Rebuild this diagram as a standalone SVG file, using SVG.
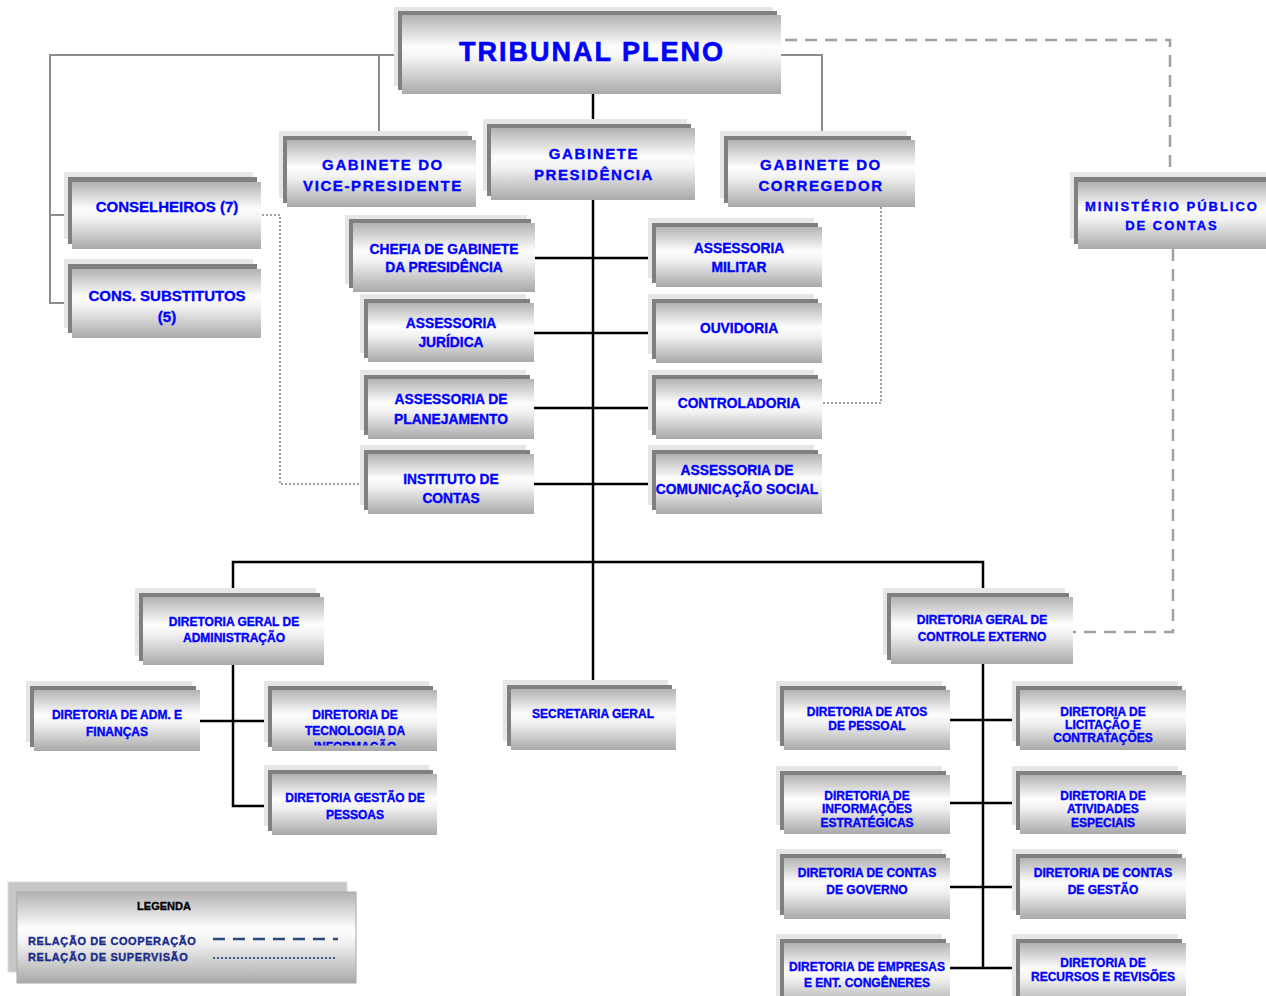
<svg xmlns="http://www.w3.org/2000/svg" width="1266" height="996" viewBox="0 0 1266 996">
<defs>
<linearGradient id="g" x1="0" y1="0" x2="0" y2="1">
<stop offset="0" stop-color="#b2b2b2"/>
<stop offset="0.4" stop-color="#fdfdfd"/>
<stop offset="0.55" stop-color="#f2f2f2"/>
<stop offset="1" stop-color="#a9a9a9"/>
</linearGradient>
<clipPath id="clipTI"><rect x="272" y="690" width="165" height="55.5"/></clipPath>
</defs>
<style>
.bk{fill:#e6e6e6}
.sh{fill:#808080}
.bx{fill:url(#g)}
text{font-family:"Liberation Sans",Arial,sans-serif;font-weight:bold;fill:#0000ff;stroke:#0000ff;stroke-width:0.35;text-anchor:middle}
.t1{font-size:27px;letter-spacing:2px;stroke-width:0.6}
.gb{font-size:15px;letter-spacing:1.6px}
.mp{font-size:13px;letter-spacing:2px}
.cs{font-size:15px}
.md{font-size:13.8px}
.sm{font-size:12px}
.c{stroke:#000;stroke-width:2.5;fill:none}
.gr{stroke:#8c8c8c;stroke-width:2;fill:none}
.dash{stroke:#a0a0a0;stroke-width:2.5;fill:none;stroke-dasharray:12 8}
.dot{stroke:#a0a0a0;stroke-width:2;fill:none;stroke-dasharray:2 2}
.lg{font-size:11px;fill:#1a2b8c;stroke:#1a2b8c;text-anchor:start;letter-spacing:0.6px}
</style>
<rect width="1266" height="996" fill="#ffffff"/>
<g id="connectors">
<path class="gr" d="M395 55 H50 V303 H68 M50 215 H68 M379 55 V133"/>
<path class="gr" d="M781 55 H822 V135"/>
<path class="dash" d="M785 40 H1170 V172"/>
<path class="dash" d="M1173 249 V632 H1073"/>
<path class="dot" d="M262 215 H280 V484 H362"/>
<path class="dot" d="M881 207 V403 H823"/>
<path class="c" d="M593 94 V684"/>
<path class="c" d="M535 258 H652 M534 333 H652 M534 408 H652 M534 484 H652"/>
<path class="c" d="M233 593 V562 H983 V593"/>
<path class="c" d="M233 665 V806 H272 M200 721 H272"/>
<path class="c" d="M983 664 V968 M950 720 H1020 M950 803 H1020 M950 887 H1020 M947 968 H1020"/>
</g>
<g id="tribunal-pleno">
<rect class="bk" x="394" y="7" width="379" height="79"/>
<rect class="sh" x="398" y="11" width="379" height="79"/>
<rect class="bx" x="402" y="15" width="379" height="79"/>
<text class="t1" x="592" y="61">TRIBUNAL PLENO</text>
</g>
<g id="gabinete-vice">
<rect class="bk" x="279" y="131" width="189" height="67"/>
<rect class="sh" x="283" y="136" width="189" height="67"/>
<rect class="bx" x="287" y="140" width="189" height="67"/>
<text class="gb" x="383" y="170">GABINETE DO</text>
<text class="gb" x="383" y="191">VICE-PRESIDENTE</text>
</g>
<g id="gabinete-presidencia">
<rect class="bk" x="483" y="119" width="204" height="72"/>
<rect class="sh" x="487" y="124" width="204" height="72"/>
<rect class="bx" x="491" y="128" width="204" height="72"/>
<text class="gb" x="594" y="159">GABINETE</text>
<text class="gb" x="594" y="180">PRESIDÊNCIA</text>
</g>
<g id="gabinete-corregedor">
<rect class="bk" x="720" y="131" width="187" height="67"/>
<rect class="sh" x="724" y="136" width="187" height="67"/>
<rect class="bx" x="728" y="140" width="187" height="67"/>
<text class="gb" x="821" y="170">GABINETE DO</text>
<text class="gb" x="821" y="191">CORREGEDOR</text>
</g>
<g id="ministerio-publico">
<rect class="bk" x="1070" y="172" width="196" height="67"/>
<rect class="sh" x="1074" y="177" width="196" height="67"/>
<rect class="bx" x="1078" y="182" width="196" height="67"/>
<text class="mp" x="1172" y="211">MINISTÉRIO PÚBLICO</text>
<text class="mp" x="1172" y="230">DE CONTAS</text>
</g>
<g id="conselheiros">
<rect class="bk" x="64" y="172" width="189" height="67"/>
<rect class="sh" x="68" y="177" width="189" height="67"/>
<rect class="bx" x="72" y="182" width="189" height="67"/>
<text class="cs" x="167" y="212">CONSELHEIROS (7)</text>
</g>
<g id="cons-substitutos">
<rect class="bk" x="64" y="259" width="189" height="69"/>
<rect class="sh" x="68" y="264" width="189" height="69"/>
<rect class="bx" x="72" y="269" width="189" height="69"/>
<text class="cs" x="167" y="301">CONS. SUBSTITUTOS</text>
<text class="cs" x="167" y="322">(5)</text>
</g>
<g id="chefia-gabinete">
<rect class="bk" x="345" y="215" width="182" height="69"/>
<rect class="sh" x="349" y="219" width="182" height="69"/>
<rect class="bx" x="353" y="223" width="182" height="69"/>
<text class="md" x="444" y="254">CHEFIA DE GABINETE</text>
<text class="md" x="444" y="272">DA PRESIDÊNCIA</text>
</g>
<g id="assessoria-juridica">
<rect class="bk" x="360" y="294" width="166" height="59"/>
<rect class="sh" x="364" y="299" width="166" height="59"/>
<rect class="bx" x="368" y="303" width="166" height="59"/>
<text class="md" x="451" y="328">ASSESSORIA</text>
<text class="md" x="451" y="347">JURÍDICA</text>
</g>
<g id="assessoria-planejamento">
<rect class="bk" x="360" y="370" width="166" height="60"/>
<rect class="sh" x="364" y="375" width="166" height="60"/>
<rect class="bx" x="368" y="379" width="166" height="60"/>
<text class="md" x="451" y="404">ASSESSORIA DE</text>
<text class="md" x="451" y="424">PLANEJAMENTO</text>
</g>
<g id="instituto-contas">
<rect class="bk" x="360" y="445" width="166" height="60"/>
<rect class="sh" x="364" y="450" width="166" height="60"/>
<rect class="bx" x="368" y="454" width="166" height="60"/>
<text class="md" x="451" y="484">INSTITUTO DE</text>
<text class="md" x="451" y="503">CONTAS</text>
</g>
<g id="assessoria-militar">
<rect class="bk" x="648" y="218" width="166" height="60"/>
<rect class="sh" x="652" y="223" width="166" height="60"/>
<rect class="bx" x="656" y="227" width="166" height="60"/>
<text class="md" x="739" y="253">ASSESSORIA</text>
<text class="md" x="739" y="272">MILITAR</text>
</g>
<g id="ouvidoria">
<rect class="bk" x="648" y="294" width="166" height="60"/>
<rect class="sh" x="652" y="299" width="166" height="60"/>
<rect class="bx" x="656" y="303" width="166" height="60"/>
<text class="md" x="739" y="333">OUVIDORIA</text>
</g>
<g id="controladoria">
<rect class="bk" x="648" y="370" width="166" height="60"/>
<rect class="sh" x="652" y="375" width="166" height="60"/>
<rect class="bx" x="656" y="379" width="166" height="60"/>
<text class="md" x="739" y="408">CONTROLADORIA</text>
</g>
<g id="assessoria-comunicacao">
<rect class="bk" x="648" y="445" width="166" height="60"/>
<rect class="sh" x="652" y="450" width="166" height="60"/>
<rect class="bx" x="656" y="454" width="166" height="60"/>
<text class="md" x="737" y="475">ASSESSORIA DE</text>
<text class="md" x="737" y="494">COMUNICAÇÃO SOCIAL</text>
</g>
<g id="dg-administracao">
<rect class="bk" x="135" y="588" width="181" height="68"/>
<rect class="sh" x="139" y="593" width="181" height="68"/>
<rect class="bx" x="143" y="597" width="181" height="68"/>
<text class="sm" x="234" y="626">DIRETORIA GERAL DE</text>
<text class="sm" x="234" y="642">ADMINISTRAÇÃO</text>
</g>
<g id="dir-adm-financas">
<rect class="bk" x="26" y="681" width="166" height="61"/>
<rect class="sh" x="30" y="686" width="166" height="61"/>
<rect class="bx" x="34" y="690" width="166" height="61"/>
<text class="sm" x="117" y="719">DIRETORIA DE ADM. E</text>
<text class="sm" x="117" y="736">FINANÇAS</text>
</g>
<g id="dir-tecnologia">
<rect class="bk" x="264" y="681" width="165" height="61"/>
<rect class="sh" x="268" y="686" width="165" height="61"/>
<rect class="bx" x="272" y="690" width="165" height="61"/>
<g clip-path="url(#clipTI)">
<text class="sm" x="355" y="719">DIRETORIA DE</text>
<text class="sm" x="355" y="735">TECNOLOGIA DA</text>
<text class="sm" x="355" y="751">INFORMAÇÃO</text>
</g>
</g>
<g id="dir-gestao-pessoas">
<rect class="bk" x="264" y="765" width="165" height="61"/>
<rect class="sh" x="268" y="770" width="165" height="61"/>
<rect class="bx" x="272" y="774" width="165" height="61"/>
<text class="sm" x="355" y="802">DIRETORIA GESTÃO DE</text>
<text class="sm" x="355" y="819">PESSOAS</text>
</g>
<g id="secretaria-geral">
<rect class="bk" x="503" y="680" width="165" height="61"/>
<rect class="sh" x="507" y="685" width="165" height="61"/>
<rect class="bx" x="511" y="689" width="165" height="61"/>
<text class="sm" x="593" y="718">SECRETARIA GERAL</text>
</g>
<g id="dg-controle-externo">
<rect class="bk" x="883" y="588" width="182" height="67"/>
<rect class="sh" x="887" y="593" width="182" height="67"/>
<rect class="bx" x="891" y="597" width="182" height="67"/>
<text class="sm" x="982" y="624">DIRETORIA GERAL DE</text>
<text class="sm" x="982" y="641">CONTROLE EXTERNO</text>
</g>
<g id="dir-atos-pessoal">
<rect class="bk" x="776" y="681" width="166" height="60"/>
<rect class="sh" x="780" y="686" width="166" height="60"/>
<rect class="bx" x="784" y="690" width="166" height="60"/>
<text class="sm" x="867" y="716">DIRETORIA DE ATOS</text>
<text class="sm" x="867" y="730">DE PESSOAL</text>
</g>
<g id="dir-licitacao">
<rect class="bk" x="1012" y="681" width="166" height="60"/>
<rect class="sh" x="1016" y="686" width="166" height="60"/>
<rect class="bx" x="1020" y="690" width="166" height="60"/>
<text class="sm" x="1103" y="716">DIRETORIA DE</text>
<text class="sm" x="1103" y="729">LICITAÇÃO E</text>
<text class="sm" x="1103" y="742">CONTRATAÇÕES</text>
</g>
<g id="dir-informacoes">
<rect class="bk" x="776" y="766" width="166" height="59"/>
<rect class="sh" x="780" y="771" width="166" height="59"/>
<rect class="bx" x="784" y="775" width="166" height="59"/>
<text class="sm" x="867" y="800">DIRETORIA DE</text>
<text class="sm" x="867" y="813">INFORMAÇÕES</text>
<text class="sm" x="867" y="827">ESTRATÉGICAS</text>
</g>
<g id="dir-atividades">
<rect class="bk" x="1012" y="766" width="166" height="59"/>
<rect class="sh" x="1016" y="771" width="166" height="59"/>
<rect class="bx" x="1020" y="775" width="166" height="59"/>
<text class="sm" x="1103" y="800">DIRETORIA DE</text>
<text class="sm" x="1103" y="813">ATIVIDADES</text>
<text class="sm" x="1103" y="827">ESPECIAIS</text>
</g>
<g id="dir-contas-governo">
<rect class="bk" x="776" y="849" width="166" height="61"/>
<rect class="sh" x="780" y="854" width="166" height="61"/>
<rect class="bx" x="784" y="858" width="166" height="61"/>
<text class="sm" x="867" y="877">DIRETORIA DE CONTAS</text>
<text class="sm" x="867" y="894">DE GOVERNO</text>
</g>
<g id="dir-contas-gestao">
<rect class="bk" x="1012" y="849" width="166" height="61"/>
<rect class="sh" x="1016" y="854" width="166" height="61"/>
<rect class="bx" x="1020" y="858" width="166" height="61"/>
<text class="sm" x="1103" y="877">DIRETORIA DE CONTAS</text>
<text class="sm" x="1103" y="894">DE GESTÃO</text>
</g>
<g id="dir-empresas">
<rect class="bk" x="776" y="934" width="166" height="64"/>
<rect class="sh" x="780" y="939" width="166" height="64"/>
<rect class="bx" x="784" y="943" width="166" height="64"/>
<text class="sm" x="867" y="971">DIRETORIA DE EMPRESAS</text>
<text class="sm" x="867" y="987">E ENT. CONGÊNERES</text>
</g>
<g id="dir-recursos">
<rect class="bk" x="1012" y="934" width="166" height="64"/>
<rect class="sh" x="1016" y="939" width="166" height="64"/>
<rect class="bx" x="1020" y="943" width="166" height="64"/>
<text class="sm" x="1103" y="967">DIRETORIA DE</text>
<text class="sm" x="1103" y="981">RECURSOS E REVISÕES</text>
</g>
<g id="legenda">
<rect x="8" y="882" width="339" height="90" fill="#c6c6c6" stroke="#dcdcdc" stroke-width="1"/>
<rect class="bx" x="17" y="892" width="339" height="91" stroke="#a8a8a8" stroke-width="1"/>
<text x="164" y="910" style="font-size:11px;fill:#000;stroke:#000">LEGENDA</text>
<text class="lg" x="28" y="945">RELAÇÃO DE COOPERAÇÃO</text>
<text class="lg" x="28" y="961">RELAÇÃO DE SUPERVISÃO</text>
<path d="M213 939 H338" stroke="#2a4a7a" stroke-width="2.5" fill="none" stroke-dasharray="12 8"/>
<path d="M213 958 H336" stroke="#3c5a8a" stroke-width="2" fill="none" stroke-dasharray="2 2"/>
</g>
</svg>
